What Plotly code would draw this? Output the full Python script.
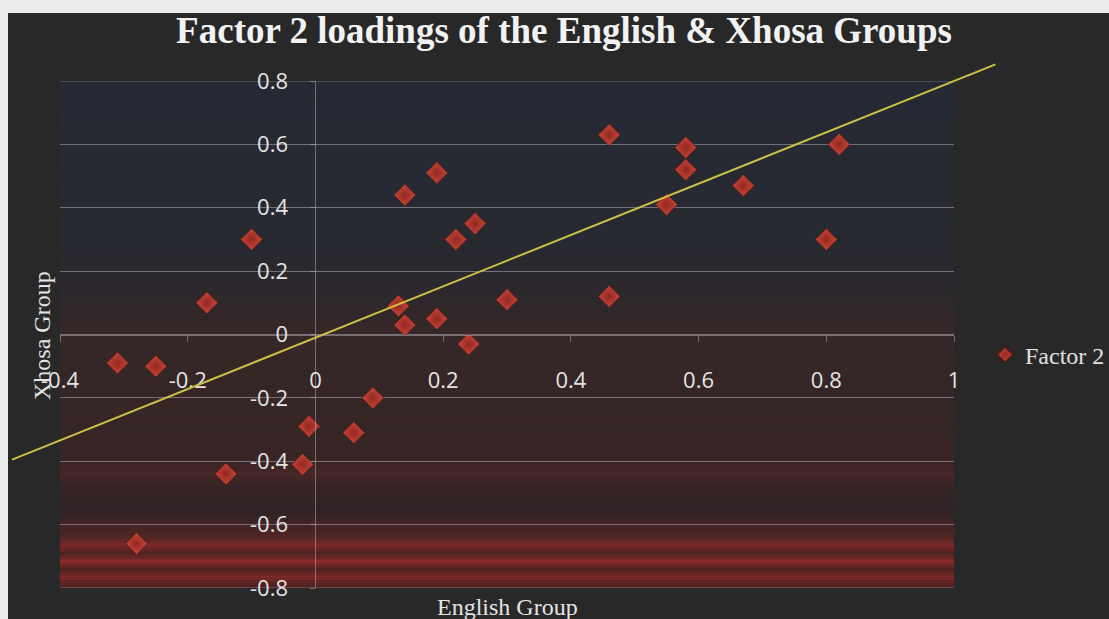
import plotly.graph_objects as go

# Factor 2 loadings: English group (x) against Xhosa group (y)
english = [-0.31, -0.25, -0.17, -0.10, -0.14, -0.28, -0.02, -0.01, 0.06, 0.09,
           0.13, 0.14, 0.14, 0.19, 0.19, 0.22, 0.25, 0.24, 0.30, 0.46,
           0.46, 0.55, 0.58, 0.58, 0.67, 0.80, 0.82]
xhosa = [-0.09, -0.10, 0.10, 0.30, -0.44, -0.66, -0.41, -0.29, -0.31, -0.20,
         0.09, 0.03, 0.44, 0.51, 0.05, 0.30, 0.35, -0.03, 0.11, 0.63,
         0.12, 0.41, 0.59, 0.52, 0.47, 0.30, 0.60]
series_name = "Factor 2"

# Trend line through the loadings
trend_slope = 0.81
trend_intercept = -0.01
trend_x_extent = [-0.475, 1.065]

x_ticks = [-0.4, -0.2, 0, 0.2, 0.4, 0.6, 0.8, 1.0]
x_tick_labels = ["-0.4", "-0.2", "0", "0.2", "0.4", "0.6", "0.8", "1"]
y_ticks = [-0.8, -0.6, -0.4, -0.2, 0, 0.2, 0.4, 0.6, 0.8]
y_tick_labels = ["-0.8", "-0.6", "-0.4", "-0.2", "0", "0.2", "0.4", "0.6", "0.8"]

X_RANGE = [-0.4, 1.0]
Y_RANGE = [-0.8, 0.8]

# ---- page geometry ----
W, H = 1109, 619
ML, MR, MT, MB = 60, 155, 81, 31
PW, PH = W - ML - MR, H - MT - MB


def px_x(px):
    return (px - ML) / PW


def px_y(py):
    return (H - MB - py) / PH


def dom_x(v):
    return (v - X_RANGE[0]) / (X_RANGE[1] - X_RANGE[0])


def dom_y(v):
    return (v - Y_RANGE[0]) / (Y_RANGE[1] - Y_RANGE[0])


# vertical colour stops of the plot-area fill (value, rgb)
bg_stops = [
    (0.80, (38, 42, 52)),
    (0.30, (40, 42, 50)),
    (0.14, (44, 40, 45)),
    (0.02, (54, 39, 40)),
    (-0.30, (55, 38, 38)),
    (-0.40, (58, 37, 37)),
    (-0.44, (72, 39, 39)),
    (-0.49, (52, 35, 37)),
    (-0.56, (48, 34, 37)),
    (-0.61, (70, 37, 37)),
    (-0.64, (84, 38, 38)),
    (-0.665, (126, 42, 40)),
    (-0.69, (78, 33, 33)),
    (-0.716, (138, 43, 40)),
    (-0.74, (82, 33, 33)),
    (-0.765, (132, 42, 40)),
    (-0.785, (88, 34, 34)),
    (-0.80, (80, 34, 34)),
]


def bg_color(v):
    for (v0, c0), (v1, c1) in zip(bg_stops[:-1], bg_stops[1:]):
        if v1 <= v <= v0:
            t = (v0 - v) / (v0 - v1) if v0 != v1 else 0
            c = [round(a + (b - a) * t) for a, b in zip(c0, c1)]
            return "rgb({},{},{})".format(*c)
    return "rgb({},{},{})".format(*bg_stops[-1][1])


shapes = []
n_bands = 200
step = (Y_RANGE[1] - Y_RANGE[0]) / n_bands
for i in range(n_bands):
    y0 = Y_RANGE[0] + i * step
    shapes.append(dict(
        type="rect", layer="below", xref="x domain", yref="y",
        x0=0, x1=1, y0=y0, y1=y0 + step * 1.05,
        fillcolor=bg_color(y0 + step / 2), line=dict(width=0),
    ))

grid_col = "rgba(185,185,190,0.5)"

# grid lines along the top and bottom edges of the plot area
for edge in Y_RANGE:
    shapes.append(dict(type="line", layer="below", xref="x domain", yref="y",
                       x0=0, x1=1, y0=edge, y1=edge,
                       line=dict(color=grid_col, width=1)))

# trend line (allowed to run past the plot edges)
tx0, tx1 = trend_x_extent
ty0 = trend_slope * tx0 + trend_intercept
ty1 = trend_slope * tx1 + trend_intercept
shapes.append(dict(
    type="line", layer="above", xref="x domain", yref="y domain",
    x0=dom_x(tx0), y0=dom_y(ty0), x1=dom_x(tx1), y1=dom_y(ty1),
    line=dict(color="rgb(205,192,70)", width=2),
))

# light page border along the top and left edges
border = "rgb(236,236,236)"
shapes.append(dict(type="rect", layer="above", xref="paper", yref="paper",
                   x0=px_x(-5), x1=px_x(W + 5), y0=px_y(13), y1=px_y(-5),
                   fillcolor=border, line=dict(width=0)))
shapes.append(dict(type="rect", layer="above", xref="paper", yref="paper",
                   x0=px_x(-5), x1=px_x(8), y0=px_y(H + 5), y1=px_y(-5),
                   fillcolor=border, line=dict(width=0)))

fig = go.Figure()
fig.add_trace(go.Scatter(
    x=english, y=xhosa, mode="markers", name=series_name,
    marker=dict(symbol="diamond", size=17, color="rgb(200,70,55)",
                gradient=dict(type="radial", color="rgb(146,40,34)"),
                line=dict(color="rgba(70,20,18,0.7)", width=1)),
))

tick_font = dict(family="Open Sans", size=22, color="rgb(228,228,228)")
serif = "Liberation Serif"

fig.update_layout(
    width=W, height=H,
    margin=dict(l=ML, r=MR, t=MT, b=MB, autoexpand=False),
    paper_bgcolor="rgb(40,40,40)",
    plot_bgcolor="rgba(0,0,0,0)",
    shapes=shapes,
    title=dict(text="Factor 2 loadings of the English & Xhosa Groups",
               font=dict(family=serif, size=37, color="rgb(242,242,242)", weight="bold"),
               xref="container", yref="container",
               x=564 / W, y=1 - 30 / H, xanchor="center", yanchor="middle"),
    xaxis=dict(range=X_RANGE, anchor="free", position=dom_y(0),
               tickvals=x_ticks, ticktext=x_tick_labels, tickfont=tick_font,
               showgrid=False, zeroline=False, showline=True, linecolor=grid_col,
               linewidth=1, ticks="outside", ticklen=6, tickcolor=grid_col,
               ticklabelstandoff=20, automargin=False),
    yaxis=dict(range=Y_RANGE, anchor="free", position=dom_x(0),
               tickvals=y_ticks, ticktext=y_tick_labels, tickfont=tick_font,
               showgrid=True, gridcolor=grid_col, gridwidth=1, zeroline=False,
               showline=True, linecolor=grid_col, linewidth=1,
               ticks="outside", ticklen=5, tickcolor=grid_col,
               ticklabelstandoff=18, automargin=False),
    legend=dict(x=px_x(985), y=px_y(355), xanchor="left", yanchor="middle",
                font=dict(family=serif, size=24, color="rgb(225,225,225)"),
                bgcolor="rgba(0,0,0,0)", itemsizing="constant"),
    showlegend=True,
    annotations=[
        dict(text="English Group", xref="paper", yref="paper",
             x=0.5, y=px_y(607), xanchor="center", yanchor="middle",
             showarrow=False, font=dict(family=serif, size=24, color="rgb(228,228,228)")),
        dict(text="Xhosa Group", xref="paper", yref="paper",
             x=px_x(42), y=px_y(336), xanchor="center", yanchor="middle",
             textangle=-90, showarrow=False,
             font=dict(family=serif, size=24, color="rgb(228,228,228)")),
    ],
)

fig.write_html("out.html")
